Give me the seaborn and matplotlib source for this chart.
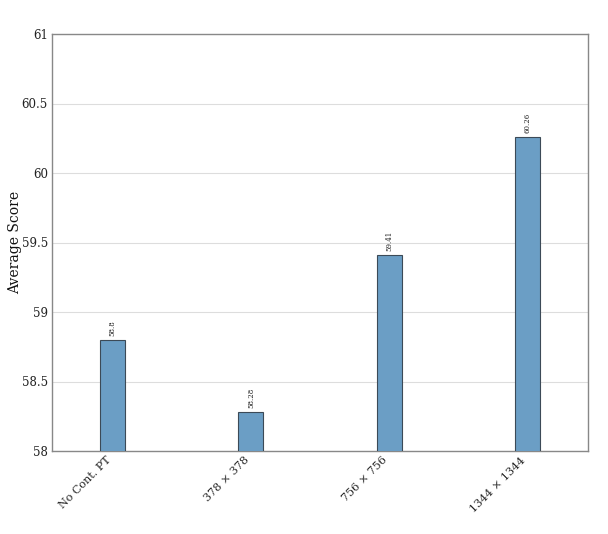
import matplotlib
matplotlib.use("Agg")
import matplotlib.pyplot as plt
import seaborn as sns
import pandas as pd

categories = ["No Cont. PT", "378 × 378", "756 × 756", "1344 × 1344"]
scores = [58.8, 58.28, 59.41, 60.26]
yticks = [58, 58.5, 59, 59.5, 60, 60.5, 61]
ytick_labels = ["58", "58.5", "59", "59.5", "60", "60.5", "61"]

sns.set_theme(style="white")
plt.rcParams['font.family'] = ['DejaVu Serif']
plt.rcParams['text.color'] = '#222222'
plt.rcParams['xtick.color'] = '#222222'
plt.rcParams['ytick.color'] = '#222222'

df = pd.DataFrame({"cat": categories, "score": scores})

fig = plt.figure(figsize=(6.08, 5.34), dpi=100)
ax = fig.add_axes([52/608, 1 - 451/534, 536/608, 417/534])

sns.barplot(data=df, x="cat", y="score", ax=ax, color="#6b9ec5", saturation=1,
            width=0.18, edgecolor="#3c4a57", linewidth=0.8, zorder=3)

ax.set_ylim(58, 61)
ax.set_xlim(-0.44, 3.44)
ax.set_yticks(yticks)
ax.set_yticklabels(ytick_labels, fontsize=8.5)
ax.yaxis.grid(True, color="#dddddd", linewidth=0.8, zorder=0)
ax.xaxis.grid(False)
ax.set_xlabel("")
ax.set_ylabel("Average Score", fontsize=10, color="#111111")
ax.yaxis.set_label_coords(-0.056, 0.5)
ax.set_xticks(range(len(categories)))
ax.set_xticklabels(categories, rotation=45, ha="right", fontsize=8)
ax.tick_params(axis="y", length=2, width=0.8, color="#888888", pad=1)
ax.tick_params(axis="x", length=0, pad=3)
for s in ax.spines.values():
    s.set_color("#888888")
    s.set_linewidth(1.0)

for i, v in enumerate(scores):
    ax.text(i, v + 0.03, f"{v}", rotation=90, ha="center", va="bottom", fontsize=5)

fig.savefig("out.png", dpi=100)
